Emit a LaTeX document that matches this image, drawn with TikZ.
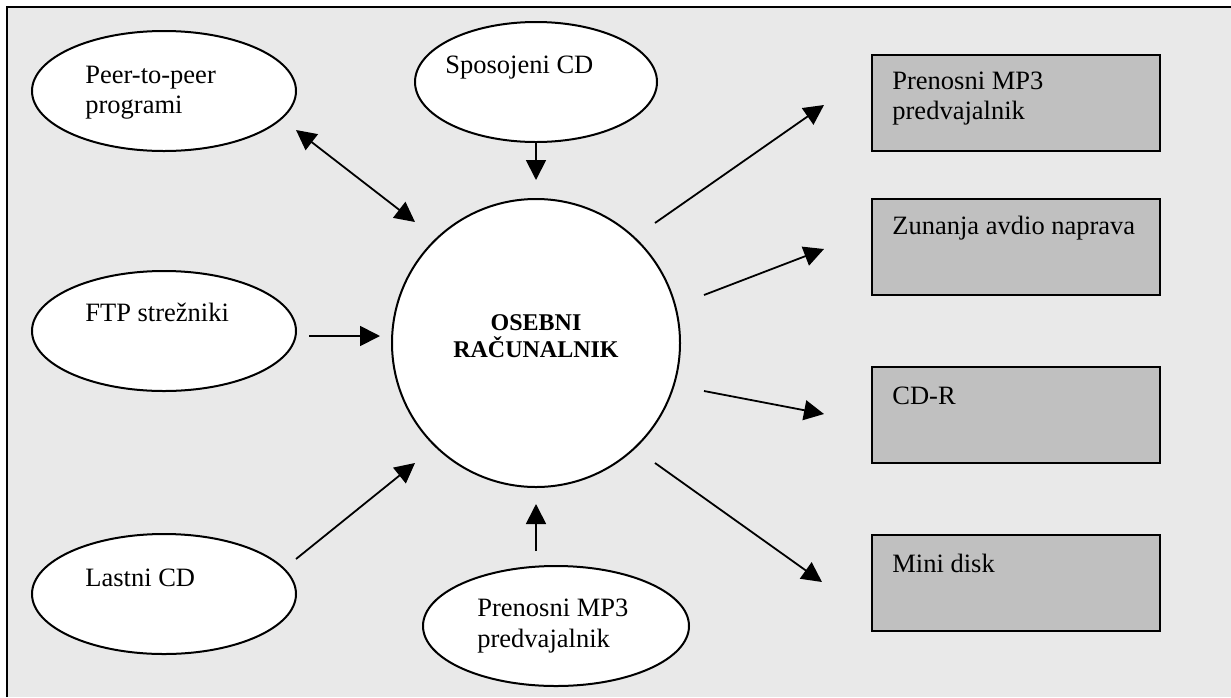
\documentclass[tikz,border=0pt]{standalone}
\usepackage{fontspec}
\setmainfont{Liberation Serif}
\usetikzlibrary{shapes.geometric,arrows.meta}
\definecolor{bgc}{HTML}{E9E9E9}
\definecolor{boxc}{HTML}{C0C0C0}
\begin{document}
\begin{tikzpicture}[x=0.5pt,y=-0.5pt,
  ell/.style={ellipse, draw=black, line width=1pt, fill=white, minimum width=132pt, minimum height=60pt, inner sep=0pt},
  devbox/.style={rectangle, draw=black, line width=1.2pt, fill=boxc, minimum width=144pt, minimum height=48pt, inner sep=0pt},
  txt/.style={anchor=base west, inner sep=0pt, align=left, font=\fontsize{13.25}{15}\selectfont},
  arr/.style={line width=0.9pt, -{Triangle[length=10pt,width=10pt]}},
  darr/.style={line width=0.9pt, {Triangle[length=10pt,width=10pt]}-{Triangle[length=10pt,width=10pt]}}]
\useasboundingbox (0,0) rectangle (1231,697);
% background and frame
\fill[bgc] (7,7) rectangle (1231,697);
\draw[line width=1.2pt] (7,697) -- (7,7) -- (1231,7);

% central circle
\node[circle, draw=black, line width=1pt, fill=white, minimum size=144pt, inner sep=0pt] (pc) at (536,343) {};
\node[anchor=base, inner sep=0pt, align=center, font=\fontsize{12}{13.5}\selectfont\bfseries] (pct) at (536,357) {OSEBNI\\RAČUNALNIK};

% source ellipses
\node[ell] (peer) at (164,91) {};
\node[txt] (peert) at (85,113) {Peer-to-peer\\programi};
\node[ell, minimum width=121pt] (spos) at (536,82) {};
\node[txt] (spost) at (445,73) {Sposojeni CD};
\node[ell] (ftp) at (164,331) {};
\node[txt] (ftpt) at (85,321) {FTP strežniki};
\node[ell] (last) at (164,594) {};
\node[txt] (lastt) at (85,586) {Lastni CD};
\node[ell, minimum width=133pt] (mp3in) at (556,626) {};
\node[txt, font=\fontsize{13.25}{15.5}\selectfont] (mp3int) at (477,647) {Prenosni MP3\\predvajalnik};

% destination boxes
\node[devbox] (b1) at (1016,103) {};
\node[txt] (b1t) at (892,119) {Prenosni MP3\\predvajalnik};
\node[devbox] (b2) at (1016,247) {};
\node[txt] (b2t) at (892,234) {Zunanja avdio naprava};
\node[devbox] (b3) at (1016,415) {};
\node[txt] (b3t) at (892,404) {CD-R};
\node[devbox] (b4) at (1016,583) {};
\node[txt] (b4t) at (892,572) {Mini disk};

% connector end points
\coordinate (peerA) at (296,130);
\coordinate (peerB) at (415,222);
\coordinate (sposA) at (536,142);
\coordinate (sposB) at (536,180);
\coordinate (ftpA) at (309,336);
\coordinate (ftpB) at (380,336);
\coordinate (lastA) at (296,559);
\coordinate (lastB) at (415,463);
\coordinate (mp3A) at (536,551);
\coordinate (mp3B) at (536,504);
\coordinate (o1A) at (655,223);
\coordinate (o1B) at (824,105);
\coordinate (o2A) at (704,295);
\coordinate (o2B) at (824,249);
\coordinate (o3A) at (704,391);
\coordinate (o3B) at (824,414);
\coordinate (o4A) at (655,463);
\coordinate (o4B) at (822,582);

\draw[darr] (peerA) -- (peerB);
\draw[arr] (sposA) -- (sposB);
\draw[arr] (ftpA) -- (ftpB);
\draw[arr] (lastA) -- (lastB);
\draw[arr] (mp3A) -- (mp3B);
\draw[arr] (o1A) -- (o1B);
\draw[arr] (o2A) -- (o2B);
\draw[arr] (o3A) -- (o3B);
\draw[arr] (o4A) -- (o4B);
\end{tikzpicture}
\end{document}
